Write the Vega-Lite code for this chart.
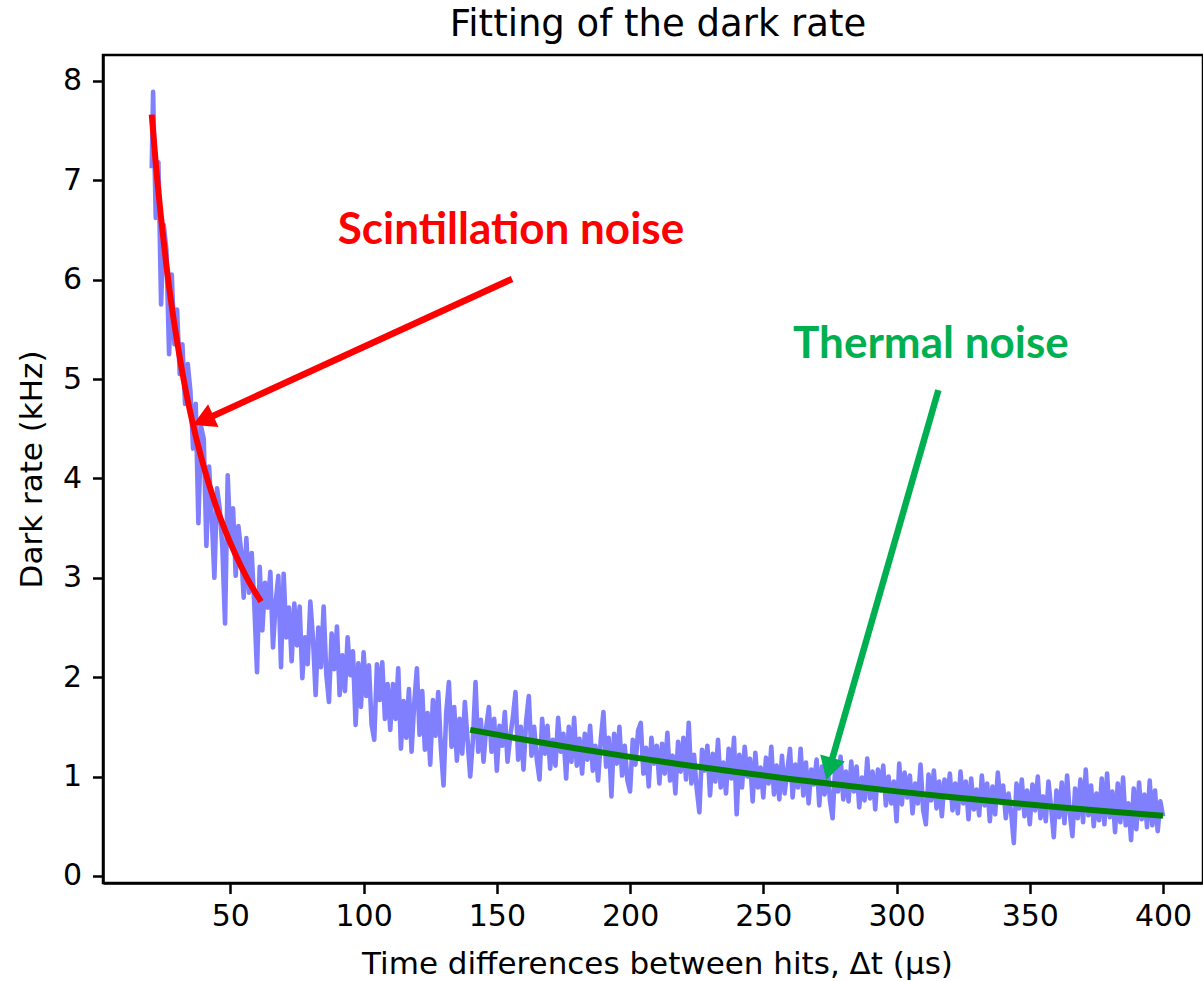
{
  "$schema": "https://vega.github.io/schema/vega-lite/v6.json",
  "width": 1100,
  "height": 828,
  "autosize": {"type": "none"},
  "padding": {"left": 103, "top": 55, "right": 0, "bottom": 98},
  "background": "white",
  "title": {"text": "Fitting of the dark rate", "font": "DejaVu Sans", "fontSize": 37, "fontWeight": "normal", "color": "black", "anchor": "middle", "baseline": "alphabetic", "offset": 23, "dy": 41, "dx": 5},
  "config": {
    "view": {"stroke": "black", "strokeWidth": 2.5},
    "axis": {"grid": false, "domainColor": "black", "domainWidth": 2.5, "tickColor": "black", "tickWidth": 2.5, "tickSize": 10.5, "labelFont": "DejaVu Sans", "labelFontSize": 30, "labelColor": "black", "titleFont": "DejaVu Sans", "titleFontSize": 31, "titleFontWeight": "normal", "titleColor": "black", "labelOverlap": false, "labelFlush": false, "labelBound": false}
  },
  "datasets": {
    "noise": [
      {"dt":20.5,"rate":7.12},{"dt":21,"rate":7.89},{"dt":22,"rate":6.62},{"dt":23,"rate":7.18},{"dt":24,"rate":5.75},{"dt":25,"rate":6.55},{"dt":26,"rate":6.30},{"dt":27,"rate":5.25},{"dt":28,"rate":6.05},{"dt":29,"rate":5.35},{"dt":30,"rate":5.70},
      {"dt":31,"rate":5.05},{"dt":32,"rate":5.35},{"dt":33,"rate":4.75},{"dt":34,"rate":5.15},{"dt":35,"rate":4.88},{"dt":36,"rate":4.30},{"dt":37,"rate":4.75},{"dt":38,"rate":3.55},{"dt":39,"rate":4.52},{"dt":40,"rate":4.40},
      {"dt":41,"rate":3.32},{"dt":42,"rate":4.12},{"dt":43,"rate":3.62},{"dt":44,"rate":3.00},{"dt":45,"rate":3.90},{"dt":46,"rate":3.70},{"dt":47,"rate":3.30},{"dt":48,"rate":2.54},{"dt":49,"rate":4.03},{"dt":50,"rate":3.35},
      {"dt":51,"rate":3.70},{"dt":52,"rate":3.02},{"dt":53,"rate":3.52},{"dt":54,"rate":3.28},{"dt":55,"rate":2.80},{"dt":56,"rate":3.40},{"dt":57,"rate":2.85},{"dt":58,"rate":3.25},{"dt":59,"rate":2.72},{"dt":60,"rate":2.05},
      {"dt":61,"rate":3.11},{"dt":62,"rate":2.47},{"dt":63,"rate":2.95},{"dt":64,"rate":2.70},{"dt":65,"rate":3.06},{"dt":66,"rate":2.30},{"dt":67,"rate":2.75},{"dt":68,"rate":3.02},{"dt":69,"rate":2.10},{"dt":70,"rate":3.04},
      {"dt":71,"rate":2.40},{"dt":72,"rate":2.70},{"dt":73,"rate":2.16},{"dt":74,"rate":2.74},{"dt":75,"rate":2.32},{"dt":76,"rate":2.71},{"dt":77,"rate":1.99},{"dt":78,"rate":2.40},{"dt":79,"rate":2.13},{"dt":80,"rate":2.76},
      {"dt":81,"rate":2.39},{"dt":82,"rate":1.82},{"dt":83,"rate":2.50},{"dt":84,"rate":2.10},{"dt":85,"rate":2.71},{"dt":86,"rate":2.03},{"dt":87,"rate":1.75},{"dt":88,"rate":2.44},{"dt":89,"rate":2.08},{"dt":90,"rate":2.51},
      {"dt":91,"rate":1.82},{"dt":92,"rate":2.22},{"dt":93,"rate":1.86},{"dt":94,"rate":2.40},{"dt":95,"rate":2.02},{"dt":96,"rate":2.26},{"dt":97,"rate":1.52},{"dt":98,"rate":2.14},{"dt":99,"rate":1.70},{"dt":100,"rate":2.25},
      {"dt":101,"rate":1.81},{"dt":102,"rate":2.12},{"dt":103,"rate":1.52},{"dt":104,"rate":1.37},{"dt":105,"rate":2.13},{"dt":106,"rate":1.77},{"dt":107,"rate":2.15},{"dt":108,"rate":1.58},{"dt":109,"rate":1.93},{"dt":110,"rate":1.47},
      {"dt":111,"rate":1.93},{"dt":112,"rate":1.58},{"dt":113,"rate":2.09},{"dt":114,"rate":1.28},{"dt":115,"rate":1.76},{"dt":116,"rate":1.39},{"dt":117,"rate":1.88},{"dt":118,"rate":1.25},{"dt":119,"rate":1.74},{"dt":120,"rate":2.09},
      {"dt":121,"rate":1.42},{"dt":122,"rate":1.86},{"dt":123,"rate":1.27},{"dt":124,"rate":1.64},{"dt":125,"rate":1.12},{"dt":126,"rate":1.77},{"dt":127,"rate":1.41},{"dt":128,"rate":1.85},{"dt":129,"rate":1.29},{"dt":130,"rate":0.91},
      {"dt":131,"rate":1.64},{"dt":132,"rate":1.95},{"dt":133,"rate":1.30},{"dt":134,"rate":1.70},{"dt":135,"rate":1.16},{"dt":136,"rate":1.58},{"dt":137,"rate":1.23},{"dt":138,"rate":1.75},{"dt":139,"rate":1.37},{"dt":140,"rate":1.00},
      {"dt":141,"rate":1.36},{"dt":142,"rate":1.95},{"dt":143,"rate":1.25},{"dt":144,"rate":1.57},{"dt":145,"rate":1.15},{"dt":146,"rate":1.49},{"dt":147,"rate":1.70},{"dt":148,"rate":1.25},{"dt":149,"rate":1.58},{"dt":150,"rate":1.06},
      {"dt":151,"rate":1.51},{"dt":152,"rate":1.31},{"dt":153,"rate":1.65},{"dt":154,"rate":1.15},{"dt":155,"rate":1.40},{"dt":156,"rate":1.59},{"dt":157,"rate":1.85},{"dt":158,"rate":1.17},{"dt":159,"rate":1.50},{"dt":160,"rate":1.07},
      {"dt":161,"rate":1.56},{"dt":162,"rate":1.81},{"dt":163,"rate":1.21},{"dt":164,"rate":1.50},{"dt":165,"rate":1.17},{"dt":166,"rate":0.97},{"dt":167,"rate":1.58},{"dt":168,"rate":1.23},{"dt":169,"rate":1.51},{"dt":170,"rate":1.08},
      {"dt":171,"rate":1.37},{"dt":172,"rate":1.11},{"dt":173,"rate":1.59},{"dt":174,"rate":1.25},{"dt":175,"rate":1.43},{"dt":176,"rate":0.98},{"dt":177,"rate":1.50},{"dt":178,"rate":1.15},{"dt":179,"rate":1.59},{"dt":180,"rate":1.11},
      {"dt":181,"rate":1.38},{"dt":182,"rate":1.03},{"dt":183,"rate":1.43},{"dt":184,"rate":1.17},{"dt":185,"rate":1.51},{"dt":186,"rate":1.06},{"dt":187,"rate":1.31},{"dt":188,"rate":0.96},{"dt":189,"rate":1.37},{"dt":190,"rate":1.65},
      {"dt":191,"rate":1.10},{"dt":192,"rate":1.39},{"dt":193,"rate":0.80},{"dt":194,"rate":1.43},{"dt":195,"rate":1.13},{"dt":196,"rate":1.50},{"dt":197,"rate":1.01},{"dt":198,"rate":1.31},{"dt":199,"rate":0.96},{"dt":200,"rate":0.85},
      {"dt":201,"rate":1.37},{"dt":202,"rate":1.12},{"dt":203,"rate":1.46},{"dt":204,"rate":1.54},{"dt":205,"rate":1.03},{"dt":206,"rate":1.29},{"dt":207,"rate":0.90},{"dt":208,"rate":1.39},{"dt":209,"rate":1.13},{"dt":210,"rate":1.31},
      {"dt":211,"rate":0.93},{"dt":212,"rate":1.33},{"dt":213,"rate":1.03},{"dt":214,"rate":1.44},{"dt":215,"rate":0.96},{"dt":216,"rate":1.21},{"dt":217,"rate":0.83},{"dt":218,"rate":1.35},{"dt":219,"rate":1.05},{"dt":220,"rate":1.39},
      {"dt":221,"rate":0.97},{"dt":222,"rate":1.54},{"dt":223,"rate":0.93},{"dt":224,"rate":1.22},{"dt":225,"rate":0.88},{"dt":226,"rate":0.64},{"dt":227,"rate":1.27},{"dt":228,"rate":1.06},{"dt":229,"rate":1.31},{"dt":230,"rate":0.81},
      {"dt":231,"rate":1.23},{"dt":232,"rate":0.95},{"dt":233,"rate":1.37},{"dt":234,"rate":0.89},{"dt":235,"rate":1.14},{"dt":236,"rate":0.83},{"dt":237,"rate":1.28},{"dt":238,"rate":0.98},{"dt":239,"rate":1.39},{"dt":240,"rate":0.62},
      {"dt":241,"rate":1.22},{"dt":242,"rate":0.89},{"dt":243,"rate":1.30},{"dt":244,"rate":1.00},{"dt":245,"rate":1.18},{"dt":246,"rate":0.75},{"dt":247,"rate":1.24},{"dt":248,"rate":0.89},{"dt":249,"rate":1.09},{"dt":250,"rate":0.79},
      {"dt":251,"rate":1.19},{"dt":252,"rate":0.93},{"dt":253,"rate":1.30},{"dt":254,"rate":0.82},{"dt":255,"rate":1.11},{"dt":256,"rate":0.77},{"dt":257,"rate":1.21},{"dt":258,"rate":0.83},{"dt":259,"rate":1.06},{"dt":260,"rate":1.28},
      {"dt":261,"rate":0.79},{"dt":262,"rate":1.12},{"dt":263,"rate":0.89},{"dt":264,"rate":1.28},{"dt":265,"rate":0.81},{"dt":266,"rate":1.14},{"dt":267,"rate":0.73},{"dt":268,"rate":1.07},{"dt":269,"rate":0.92},{"dt":270,"rate":1.17},
      {"dt":271,"rate":0.71},{"dt":272,"rate":1.10},{"dt":273,"rate":0.82},{"dt":274,"rate":1.17},{"dt":275,"rate":0.76},{"dt":276,"rate":0.58},{"dt":277,"rate":1.11},{"dt":278,"rate":0.85},{"dt":279,"rate":1.20},{"dt":280,"rate":0.77},
      {"dt":281,"rate":1.05},{"dt":282,"rate":0.75},{"dt":283,"rate":1.15},{"dt":284,"rate":0.85},{"dt":285,"rate":1.10},{"dt":286,"rate":0.69},{"dt":287,"rate":0.99},{"dt":288,"rate":0.76},{"dt":289,"rate":1.18},{"dt":290,"rate":0.78},
      {"dt":291,"rate":1.05},{"dt":292,"rate":0.67},{"dt":293,"rate":1.07},{"dt":294,"rate":0.86},{"dt":295,"rate":1.11},{"dt":296,"rate":0.71},{"dt":297,"rate":1.00},{"dt":298,"rate":0.73},{"dt":299,"rate":0.95},{"dt":300,"rate":0.55},
      {"dt":301,"rate":1.13},{"dt":302,"rate":0.72},{"dt":303,"rate":1.04},{"dt":304,"rate":0.79},{"dt":305,"rate":1.01},{"dt":306,"rate":0.63},{"dt":307,"rate":0.93},{"dt":308,"rate":0.73},{"dt":309,"rate":1.12},{"dt":310,"rate":0.66},
      {"dt":311,"rate":0.52},{"dt":312,"rate":1.02},{"dt":313,"rate":0.76},{"dt":314,"rate":1.06},{"dt":315,"rate":0.68},{"dt":316,"rate":0.95},{"dt":317,"rate":0.60},{"dt":318,"rate":0.97},{"dt":319,"rate":0.79},{"dt":320,"rate":1.03},
      {"dt":321,"rate":0.66},{"dt":322,"rate":0.93},{"dt":323,"rate":0.63},{"dt":324,"rate":1.05},{"dt":325,"rate":0.73},{"dt":326,"rate":0.95},{"dt":327,"rate":0.57},{"dt":328,"rate":0.98},{"dt":329,"rate":0.67},{"dt":330,"rate":0.87},
      {"dt":331,"rate":0.61},{"dt":332,"rate":1.01},{"dt":333,"rate":0.71},{"dt":334,"rate":0.93},{"dt":335,"rate":0.55},{"dt":336,"rate":0.90},{"dt":337,"rate":0.62},{"dt":338,"rate":1.04},{"dt":339,"rate":0.74},{"dt":340,"rate":0.91},
      {"dt":341,"rate":0.58},{"dt":342,"rate":0.83},{"dt":343,"rate":0.64},{"dt":344,"rate":0.33},{"dt":345,"rate":0.93},{"dt":346,"rate":0.68},{"dt":347,"rate":0.97},{"dt":348,"rate":0.60},{"dt":349,"rate":0.86},{"dt":350,"rate":0.52},
      {"dt":351,"rate":0.92},{"dt":352,"rate":0.66},{"dt":353,"rate":1.00},{"dt":354,"rate":0.58},{"dt":355,"rate":0.80},{"dt":356,"rate":0.55},{"dt":357,"rate":0.95},{"dt":358,"rate":0.69},{"dt":359,"rate":0.39},{"dt":360,"rate":0.86},
      {"dt":361,"rate":0.59},{"dt":362,"rate":0.94},{"dt":363,"rate":0.53},{"dt":364,"rate":1.01},{"dt":365,"rate":0.63},{"dt":366,"rate":0.40},{"dt":367,"rate":0.88},{"dt":368,"rate":0.58},{"dt":369,"rate":0.97},{"dt":370,"rate":0.54},
      {"dt":371,"rate":1.07},{"dt":372,"rate":0.61},{"dt":373,"rate":0.91},{"dt":374,"rate":0.50},{"dt":375,"rate":0.83},{"dt":376,"rate":0.56},{"dt":377,"rate":0.98},{"dt":378,"rate":0.52},{"dt":379,"rate":1.03},{"dt":380,"rate":0.59},
      {"dt":381,"rate":0.85},{"dt":382,"rate":0.44},{"dt":383,"rate":0.93},{"dt":384,"rate":0.54},{"dt":385,"rate":0.99},{"dt":386,"rate":0.51},{"dt":387,"rate":0.73},{"dt":388,"rate":0.36},{"dt":389,"rate":0.88},{"dt":390,"rate":0.47},
      {"dt":391,"rate":0.94},{"dt":392,"rate":0.57},{"dt":393,"rate":0.82},{"dt":394,"rate":0.49},{"dt":395,"rate":0.96},{"dt":396,"rate":0.51},{"dt":397,"rate":0.86},{"dt":398,"rate":0.45},{"dt":399,"rate":0.75},{"dt":400,"rate":0.60}
    ],
    "scintFit": [
      {"dt":20.5,"rate":7.66},{"dt":22,"rate":7.17},{"dt":24,"rate":6.62},{"dt":26,"rate":6.14},{"dt":28,"rate":5.73},{"dt":30,"rate":5.38},{"dt":33,"rate":4.92},{"dt":36,"rate":4.54},{"dt":40,"rate":4.12},{"dt":44,"rate":3.77},{"dt":48,"rate":3.48},{"dt":52,"rate":3.23},{"dt":56,"rate":3.01},{"dt":61.5,"rate":2.76}
    ],
    "thermalFit": [
      {"dt":140,"rate":1.47},{"dt":160,"rate":1.373},{"dt":180,"rate":1.282},{"dt":200,"rate":1.198},{"dt":220,"rate":1.119},{"dt":240,"rate":1.045},{"dt":260,"rate":0.976},{"dt":280,"rate":0.912},{"dt":300,"rate":0.851},{"dt":320,"rate":0.795},{"dt":340,"rate":0.743},{"dt":360,"rate":0.694},{"dt":380,"rate":0.648},{"dt":400,"rate":0.605}
    ],
    "scintArrow": [{"dt":155.7,"rate":6.007,"dtEnd":39.38,"rateEnd":4.578,"tipDt":35.96,"tipRate":4.537}],
    "thermalArrow": [{"dt":315.7,"rate":4.888,"dtEnd":274.6,"rateEnd":1.061,"tipDt":273.6,"tipRate":0.965}],
    "scintLabel": [{"dt":155.3,"rate":6.363,"label":"Scintillation noise"}],
    "thermalLabel": [{"dt":312.9,"rate":5.207,"label":"Thermal noise"}]
  },
  "encoding": {
    "x": {"field": "dt", "type": "quantitative", "scale": {"domain": [2.2, 415], "nice": false, "zero": false}, "axis": {"title": "Time differences between hits, Δt (μs)", "values": [50,100,150,200,250,300,350,400], "format": "d", "labelPadding": 8, "titleX": 554, "titleY": 90, "titleBaseline": "alphabetic"}},
    "y": {"field": "rate", "type": "quantitative", "scale": {"domain": [-0.071, 8.26], "nice": false, "zero": false}, "axis": {"title": "Dark rate (kHz)", "values": [0,1,2,3,4,5,6,7,8], "format": "d", "labelPadding": 11, "titleX": -62, "titleY": 414, "titleBaseline": "alphabetic", "titleAngle": 270}}
  },
  "layer": [
    {"data": {"name": "noise"}, "mark": {"type": "line", "color": "#8080ff", "strokeWidth": 4.6, "strokeJoin": "round"}},
    {"data": {"name": "scintFit"}, "mark": {"type": "line", "color": "#ff0000", "strokeWidth": 6, "interpolate": "monotone"}},
    {"data": {"name": "thermalFit"}, "mark": {"type": "line", "color": "#008000", "strokeWidth": 6, "interpolate": "monotone"}},
    {"data": {"name": "scintArrow"}, "mark": {"type": "rule", "color": "#ff0000", "strokeWidth": 6.5}, "encoding": {"x2": {"field": "dtEnd"}, "y2": {"field": "rateEnd"}}},
    {"data": {"name": "scintArrow"}, "mark": {"type": "point", "shape": "M0,0L-0.56,1L0.56,1Z", "size": 2000, "angle": 245.4, "filled": true, "color": "#ff0000", "opacity": 1, "strokeWidth": 0}, "encoding": {"x": {"field": "tipDt", "type": "quantitative"}, "y": {"field": "tipRate", "type": "quantitative"}}},
    {"data": {"name": "thermalArrow"}, "mark": {"type": "rule", "color": "#00b050", "strokeWidth": 6.5}, "encoding": {"x2": {"field": "dtEnd"}, "y2": {"field": "rateEnd"}}},
    {"data": {"name": "thermalArrow"}, "mark": {"type": "point", "shape": "M0,0L-0.56,1L0.56,1Z", "size": 2100, "angle": 196.1, "filled": true, "color": "#00b050", "opacity": 1, "strokeWidth": 0}, "encoding": {"x": {"field": "tipDt", "type": "quantitative"}, "y": {"field": "tipRate", "type": "quantitative"}}},
    {"data": {"name": "scintLabel"}, "mark": {"type": "text", "font": "Lato", "fontWeight": "bold", "fontSize": 44, "color": "#ff0000", "align": "center", "baseline": "alphabetic"}, "encoding": {"text": {"field": "label"}}},
    {"data": {"name": "thermalLabel"}, "mark": {"type": "text", "font": "Lato", "fontWeight": "bold", "fontSize": 44, "color": "#00b050", "align": "center", "baseline": "alphabetic"}, "encoding": {"text": {"field": "label"}}}
  ]
}
